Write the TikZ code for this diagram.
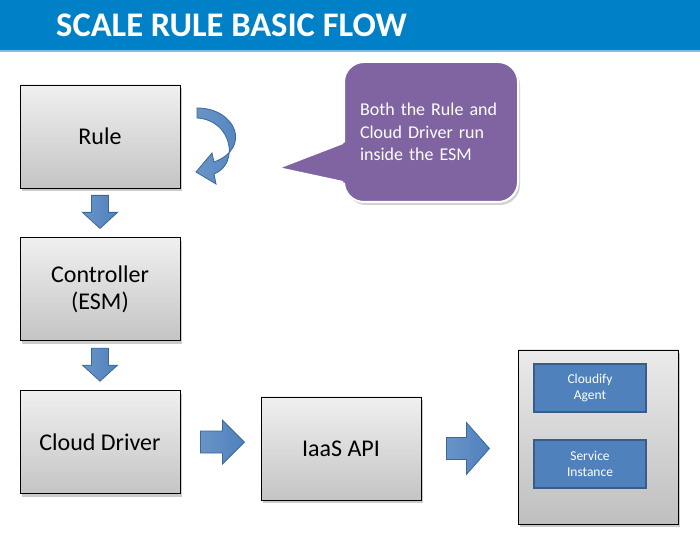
\documentclass[tikz,border=0pt]{standalone}
\usepackage{fontspec}
\setmainfont{Carlito}
\usetikzlibrary{positioning,shadows}

\definecolor{titleblue}{HTML}{0080C6}
\definecolor{titleline}{HTML}{7DBDE6}
\definecolor{notepurple}{HTML}{8064A2}
\definecolor{agentblue}{HTML}{4F81BD}
\definecolor{agentedge}{HTML}{385D8A}
\definecolor{arrowedge}{HTML}{3A679C}

\begin{document}
\begin{tikzpicture}[x=1pt, y=1pt,
box/.style={rectangle, draw=black, line width=0.8pt, top color=black!6, bottom color=black!23,
  minimum width=160pt, minimum height=103pt, align=center, font=\fontsize{24}{27}\selectfont,
  drop shadow={shadow xshift=2pt, shadow yshift=-3pt, fill=black!45, opacity=0.45}},
hostbox/.style={rectangle, draw=black, line width=0.8pt, top color=black!8, bottom color=black!25,
  minimum width=160pt, minimum height=174pt,
  drop shadow={shadow xshift=2pt, shadow yshift=-3pt, fill=black!45, opacity=0.45}},
agent/.style={rectangle, draw=agentedge, line width=1.6pt, fill=agentblue, text=white,
  minimum width=112pt, minimum height=48pt, align=center, font=\fontsize{13.5}{15.5}\selectfont},
note/.style={rectangle, rounded corners=20pt, draw=white, line width=2pt, fill=notepurple,
  text=white, text width=142pt, inner xsep=16pt, minimum height=140pt, align=left,
  font=\fontsize{18}{22.5}\selectfont,
  drop shadow={shadow xshift=2pt, shadow yshift=-3pt, fill=black!45, opacity=0.4}},
blockarrow/.style={draw=arrowedge, line width=0.8pt, left color=agentblue!85!white, right color=agentblue, line join=miter},
]
\useasboundingbox[fill=white] (0,0) rectangle (700,540);

% title bar
\fill[titleblue] (0,490) rectangle (700,540);
\fill[titleline] (0,487.5) rectangle (700,490);
\node[anchor=base west, inner sep=0pt, text=white, font=\fontsize{34.5}{40}\selectfont\bfseries] (title) at (56,503) {SCALE RULE BASIC FLOW};

% main flow
\node[box] (rule) at (100,403.5) {Rule};
\node[box, below=49pt of rule] (controller) {Controller\\(ESM)};
\node[box, below=49pt of controller] (cloud) {Cloud Driver};
\node[box] (iaas) at (341,91.5) {IaaS API};

% machine
\node[hostbox] (host) at (598,103) {};
\node[agent] (agent) at (590,152) {Cloudify\\Agent};
\node[agent] (service) at (590,76) {Service\\Instance};

% block arrows
\draw[blockarrow] ([yshift=-7pt]rule.south) +(-8.5,0) -- +(8.5,0) -- +(8.5,-17) -- +(17.5,-17) -- +(0,-33) -- +(-17.5,-17) -- +(-8.5,-17) -- cycle;
\draw[blockarrow] ([yshift=-7pt]controller.south) +(-8.5,0) -- +(8.5,0) -- +(8.5,-17) -- +(17.5,-17) -- +(0,-33) -- +(-17.5,-17) -- +(-8.5,-17) -- cycle;
\draw[blockarrow] ([xshift=20pt]cloud.east) +(0,11) -- +(22,11) -- +(22,22) -- +(44,0) -- +(22,-22) -- +(22,-11) -- +(0,-11) -- cycle;
\draw[blockarrow] ([xshift=25pt]iaas.east) +(0,11) -- +(20,11) -- +(20,26) -- +(43,0) -- +(20,-26) -- +(20,-11) -- +(0,-11) -- cycle;

% loop arrow
\draw[blockarrow] (197,432) .. controls (236,432) and (252,392) .. (214,378) -- (212,387) -- (196,368)
  -- (216,356) -- (214,366) .. controls (240,376) and (232,420) .. (197,422) -- cycle;

% callout
\node[note] (remark) at (431,408) {Both the Rule and Cloud Driver run inside the ESM};
\fill[notepurple] ([shift={(3,-10)}]remark.west) -- ([shift={(-65,-36)}]remark.west) -- ([shift={(3,-51)}]remark.west) -- cycle;
\draw[white, line width=2pt, line join=miter] ([shift={(0,-11)}]remark.west) -- ([shift={(-65,-36)}]remark.west) -- ([shift={(0,-50)}]remark.west);
\end{tikzpicture}
\end{document}
